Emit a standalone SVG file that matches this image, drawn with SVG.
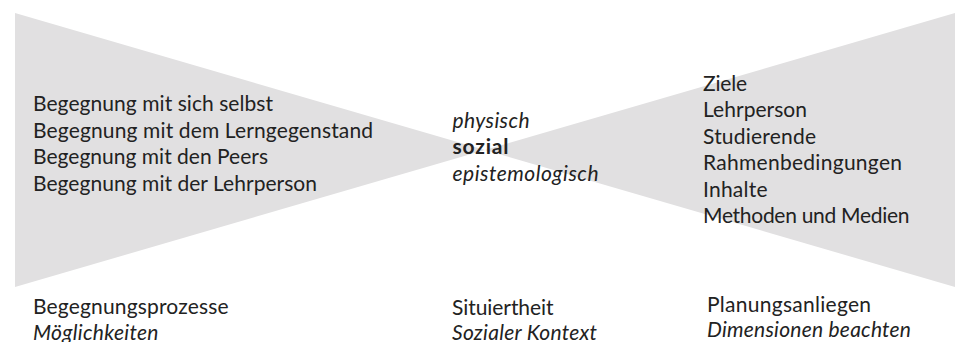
<svg xmlns="http://www.w3.org/2000/svg" width="955" height="342" viewBox="0 0 955 342">
  <style>
    .shape { fill: #e1e0e1; stroke: none; }
    text { font-family: Lato, "Source Sans Pro", "Open Sans", sans-serif; font-size: 21px; fill: #222222; }
    .it { font-style: italic; }
    .bd { font-weight: bold; }
  </style>
  <rect x="0" y="0" width="955" height="342" fill="#ffffff"/>
  <g id="shapes">
    <polygon id="left-triangle" class="shape" points="15,13 485,150 15,287"/>
    <polygon id="right-triangle" class="shape" points="955,13 485,150 955,287"/>
  </g>
  <g id="begegnungen">
    <text x="33" y="111" textLength="240" lengthAdjust="spacing">Begegnung mit sich selbst</text>
    <text x="33" y="137.5" textLength="340" lengthAdjust="spacing">Begegnung mit dem Lerngegenstand</text>
    <text x="33" y="164" textLength="235" lengthAdjust="spacing">Begegnung mit den Peers</text>
    <text x="33" y="190.5" textLength="284" lengthAdjust="spacing">Begegnung mit der Lehrperson</text>
  </g>
  <g id="situiertheit-dimensionen">
    <text x="452.5" y="127.5" class="it" textLength="77" lengthAdjust="spacing">physisch</text>
    <text x="452.5" y="154" class="bd" textLength="56" lengthAdjust="spacing">sozial</text>
    <text x="452.5" y="180.5" class="it" textLength="146" lengthAdjust="spacing">epistemologisch</text>
  </g>
  <g id="planung">
    <text x="703" y="90.8" textLength="44" lengthAdjust="spacing">Ziele</text>
    <text x="703" y="117.3" textLength="104" lengthAdjust="spacing">Lehrperson</text>
    <text x="703" y="143.8" textLength="113" lengthAdjust="spacing">Studierende</text>
    <text x="703" y="170.3" textLength="199" lengthAdjust="spacing">Rahmenbedingungen</text>
    <text x="703" y="196.8" textLength="64.5" lengthAdjust="spacing">Inhalte</text>
    <text x="703" y="223.3" textLength="206.5" lengthAdjust="spacing">Methoden und Medien</text>
  </g>
  <g id="label-begegnungsprozesse">
    <text x="33" y="314" textLength="195.5" lengthAdjust="spacing">Begegnungsprozesse</text>
    <text x="33" y="339.5" class="it" textLength="125.5" lengthAdjust="spacing">Möglichkeiten</text>
  </g>
  <g id="label-situiertheit">
    <text x="452" y="314.5" textLength="101.5" lengthAdjust="spacing">Situiertheit</text>
    <text x="452" y="339.5" class="it" textLength="145" lengthAdjust="spacing">Sozialer Kontext</text>
  </g>
  <g id="label-planungsanliegen">
    <text x="707" y="311.5" textLength="164" lengthAdjust="spacing">Planungsanliegen</text>
    <text x="707" y="337" class="it" textLength="204" lengthAdjust="spacing">Dimensionen beachten</text>
  </g>
</svg>
